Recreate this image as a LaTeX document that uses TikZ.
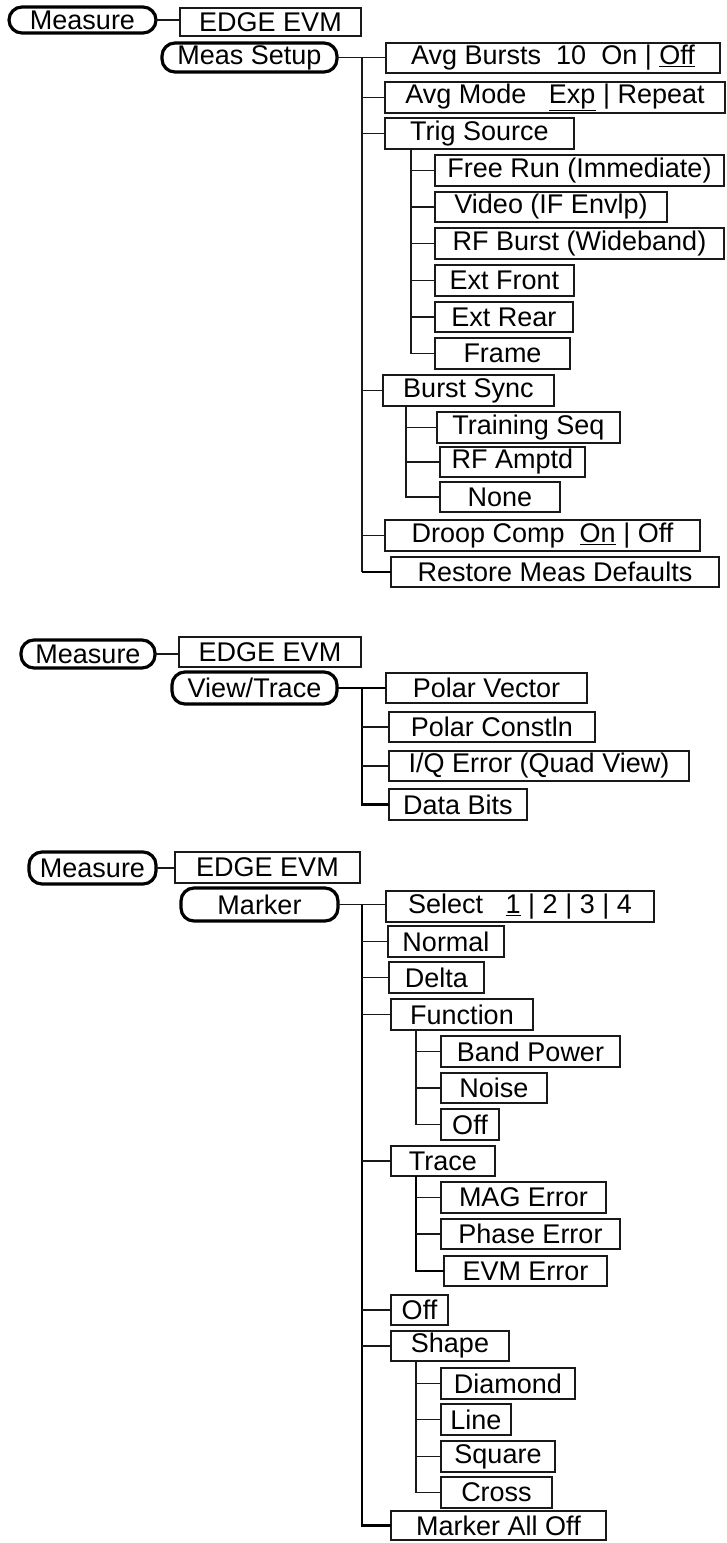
\documentclass[tikz,border=0pt]{standalone}
\usepackage{fontspec}
\setmainfont{Liberation Sans}
\newcommand\mybox[6]{\node[mbox,minimum width={(#3-#2)*1pt},minimum height={(#5-#4)*1pt}] (#1) at ({(#2+#3)/2},{-(#4+#5)/2}) {#6};}
\newcommand\myround[6]{\node[rbox,minimum width={(#3-#2)*1pt},minimum height={(#5-#4)*1pt}] (#1) at ({(#2+#3)/2},{-(#4+#5)/2}) {#6};}
\begin{document}
\begin{tikzpicture}[x=1pt,y=1pt,
  mbox/.style={draw=black!90,line width=1.4pt,inner sep=0pt,outer sep=0pt,font=\fontsize{27}{30}\selectfont},
  rbox/.style={draw=black,line width=3.2pt,rounded corners=13pt,inner sep=0pt,outer sep=0pt,font=\fontsize{27}{30}\selectfont},
  conn/.style={draw=black!90,line width=1.3pt},
  thick conn/.style={draw=black,line width=2.2pt}]
\useasboundingbox (0,0) rectangle (727,-1543);
\coordinate (vx) at (362,0);
\coordinate (tx) at (411,0);
\coordinate (bx) at (406,0);
\coordinate (fx) at (416,0);
% ---------- Section 1 ----------
\myround{m1}{9}{156}{7}{33}{Measure}
\mybox{e1}{180}{361}{8}{36}{EDGE EVM}
\myround{ms}{162}{337}{43}{72}{Meas Setup}
\mybox{avgb}{386}{720}{43}{73}{Avg Bursts\ \ 10\ \ On | \underline{Off}}
\mybox{avgm}{385}{725}{82}{113}{Avg Mode\ \ \ \underline{Exp} | Repeat}
\mybox{trig}{385}{574}{118}{149}{Trig Source}
\mybox{fr}{435}{724}{155}{186}{Free Run (Immediate)}
\mybox{vid}{435}{667}{192}{222}{Video (IF Envlp)}
\mybox{rfb}{435}{724}{228}{259}{RF Burst (Wideband)}
\mybox{extf}{435}{574}{265}{296}{Ext Front}
\mybox{extr}{435}{573}{302}{332}{Ext Rear}
\mybox{frame}{435}{570}{338}{369}{Frame}
\mybox{bs}{383}{554}{375}{406}{Burst Sync}
\mybox{ts}{437}{620}{412}{443}{Training Seq}
\mybox{rfa}{440}{585}{447}{477}{RF Amptd}
\mybox{none}{440}{560}{482}{512}{None}
\mybox{droop}{385}{700}{520}{551}{Droop Comp\ \ \underline{On} | Off}
\mybox{rest}{391}{719}{557}{587}{Restore Meas Defaults}
\draw[conn] (m1.east) -- (m1.east -| e1.west);
\draw[conn] (ms.east) -- (ms.east -| avgb.west);
\draw[conn] (ms.east -| vx) -- (rest.west -| vx);
\draw[thick conn] (rest.west -| vx) -- (rest.west);
\foreach \n in {avgm,trig,bs,droop} \draw[conn] (\n.west -| vx) -- (\n.west);
\draw[conn] (trig.south -| tx) |- (frame.west);
\foreach \n in {fr,vid,rfb,extf,extr} \draw[conn] (\n.west -| tx) -- (\n.west);
\draw[conn] (bs.south -| bx) |- (none.west);
\foreach \n in {ts,rfa} \draw[conn] (\n.west -| bx) -- (\n.west);
% ---------- Section 2 ----------
\myround{m2}{21}{155}{640}{668}{Measure}
\mybox{e2}{179}{361}{637}{667}{EDGE EVM}
\myround{vt}{172}{337}{672}{704}{View/Trace}
\mybox{pv}{386}{587}{673}{703}{Polar Vector}
\mybox{pc}{389}{595}{712}{742}{Polar Constln}
\mybox{iq}{389}{689}{751}{781}{I/Q Error (Quad View)}
\mybox{db}{389}{527}{789}{820}{Data Bits}
\draw[conn] (m2.east) -- (m2.east -| e2.west);
\draw[thick conn] (vt.east) -- (vt.east -| pv.west);
\draw[thick conn] (vt.east -| vx) |- (db.west);
\foreach \n in {pc,iq} \draw[conn] (\n.west -| vx) -- (\n.west);
% ---------- Section 3 ----------
\myround{m3}{29}{156}{852}{884}{Measure}
\mybox{e3}{175}{360}{852}{883}{EDGE EVM}
\myround{mk}{181}{338}{888}{921}{Marker}
\mybox{sel}{386}{654}{891}{922}{Select\ \ \ \underline{1} | 2 | 3 | 4}
\mybox{nor}{388}{504}{926}{957}{Normal}
\mybox{del}{389}{484}{962}{993}{Delta}
\mybox{fun}{391}{533}{999}{1030}{Function}
\mybox{bp}{441}{620}{1036}{1067}{Band Power}
\mybox{noi}{441}{547}{1073}{1103}{Noise}
\mybox{off1}{441}{499}{1109}{1140}{Off}
\mybox{tr}{391}{495}{1146}{1176}{Trace}
\mybox{mag}{441}{606}{1182}{1213}{MAG Error}
\mybox{pha}{441}{620}{1219}{1249}{Phase Error}
\mybox{evm}{444}{607}{1256}{1286}{EVM Error}
\mybox{off2}{391}{448}{1295}{1325}{Off}
\mybox{sh}{391}{509}{1331}{1361}{Shape}
\mybox{dia}{441}{575}{1368}{1399}{Diamond}
\mybox{lin}{441}{511}{1404}{1435}{Line}
\mybox{sq}{441}{555}{1441}{1472}{Square}
\mybox{cr}{441}{552}{1477}{1508}{Cross}
\mybox{mao}{391}{606}{1511}{1540}{Marker All Off}
\draw[conn] (m3.east) -- (m3.east -| e3.west);
\draw[conn] (mk.east) -- (mk.east -| sel.west);
\draw[thick conn] (mk.east -| vx) |- (mao.west);
\foreach \n in {nor,del,fun,tr,off2,sh} \draw[conn] (\n.west -| vx) -- (\n.west);
\draw[conn] (fun.south -| fx) |- (off1.west);
\foreach \n in {bp,noi} \draw[conn] (\n.west -| fx) -- (\n.west);
\draw[thick conn] (tr.south -| fx) |- (evm.west);
\foreach \n in {mag,pha} \draw[conn] (\n.west -| fx) -- (\n.west);
\draw[conn] (sh.south -| fx) |- (cr.west);
\foreach \n in {dia,lin,sq} \draw[conn] (\n.west -| fx) -- (\n.west);
\end{tikzpicture}
\end{document}
